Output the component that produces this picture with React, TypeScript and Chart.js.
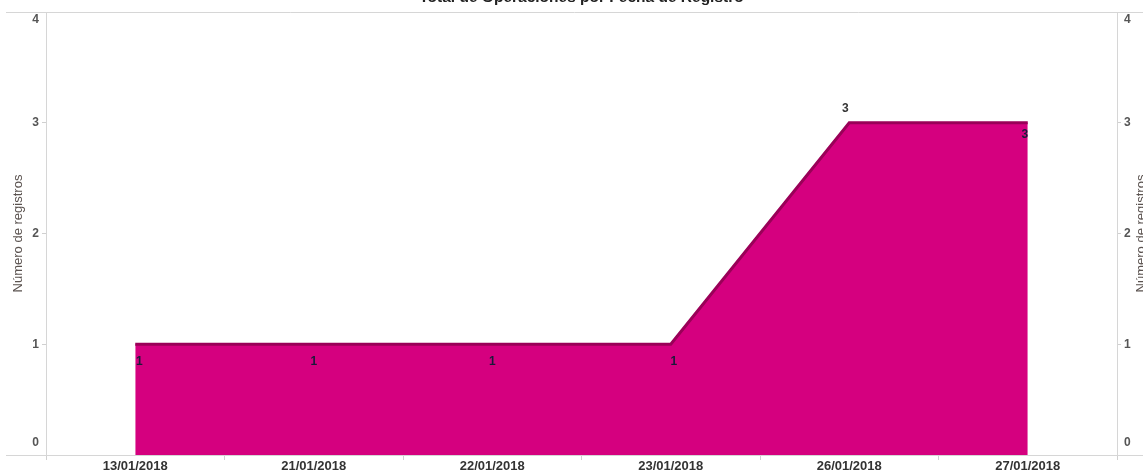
import React, { useEffect, useRef } from "react";
import { Chart, registerables } from "chart.js";

Chart.register(...registerables);

const TITLE = "Total de Operaciones por Fecha de Registro";
const Y_TITLE = "Número de registros";
const categories = ["13/01/2018", "21/01/2018", "22/01/2018", "23/01/2018", "26/01/2018", "27/01/2018"];
const registros = [1, 1, 1, 1, 3, 3];
const yTicks = [0, 1, 2, 3, 4];

const FONT = "'Liberation Sans', Arial, sans-serif";

const decorPlugin = {
  id: "decor",
  afterDraw(chart: any, _args: any, opts: any) {
    const ctx = chart.ctx;
    const area = chart.chartArea;
    const ys = chart.scales.y;
    ctx.save();
    // frame lines across the full width
    ctx.strokeStyle = "#d6d6d6";
    ctx.lineWidth = 1;
    ctx.beginPath();
    ctx.moveTo(6, Math.round(area.top) + 0.5);
    ctx.lineTo(chart.width, Math.round(area.top) + 0.5);
    ctx.moveTo(6, Math.round(area.bottom) + 0.5);
    ctx.lineTo(chart.width, Math.round(area.bottom) + 0.5);
    ctx.stroke();

    // y tick labels, both sides
    ctx.font = "bold 12px " + FONT;
    ctx.fillStyle = "#555";
    ctx.textBaseline = "middle";
    yTicks.forEach((v) => {
      let y = ys.getPixelForValue(v);
      if (v === yTicks[0]) y -= 12;
      if (v === yTicks[yTicks.length - 1]) y += 8;
      ctx.textAlign = "right";
      ctx.fillText(String(v), area.left - 7, y);
      ctx.textAlign = "left";
      ctx.fillText(String(v), area.right + 7, y);
    });

    // axis titles
    ctx.font = "13px " + FONT;
    ctx.fillStyle = "#5b5350";
    ctx.textAlign = "center";
    const midY = (ys.getPixelForValue(yTicks[0]) + ys.getPixelForValue(yTicks[yTicks.length - 1])) / 2;
    [18, 1141].forEach((x) => {
      ctx.save();
      ctx.translate(x, midY);
      ctx.rotate(-Math.PI / 2);
      ctx.fillText(Y_TITLE, 0, 0);
      ctx.restore();
    });

    // chart title (clipped at the top)
    ctx.font = "bold 15.5px " + FONT;
    ctx.fillStyle = "#222";
    ctx.textBaseline = "alphabetic";
    ctx.fillText(TITLE, (area.left + area.right) / 2, 2);

    // data labels
    const meta = chart.getDatasetMeta(0);
    const offs = opts.offsets;
    ctx.font = "bold 12px " + FONT;
    ctx.textBaseline = "middle";
    ctx.textAlign = "center";
    meta.data.forEach((pt: any, i: number) => {
      const [dx, dy, color] = offs[i];
      ctx.fillStyle = color;
      ctx.fillText(String(registros[i]), pt.x + dx, pt.y + dy);
    });
    ctx.restore();
  },
};

export default function App() {
  const ref = useRef<HTMLCanvasElement>(null);
  useEffect(() => {
    if (!ref.current) return;
    const chart = new Chart(ref.current, {
      type: "line",
      data: {
        labels: categories,
        datasets: [
          {
            label: "Registros",
            data: registros,
            fill: "origin",
            backgroundColor: "#d5007f",
            borderColor: "#9a0058",
            borderWidth: 3,
            pointRadius: 0,
            tension: 0,
            yAxisID: "y",
          },
        ],
      },
      options: {
        responsive: false,
        animation: false,
        layout: { padding: { top: 12, left: 0, right: 0, bottom: 0 } },
        plugins: {
          legend: { display: false },
          tooltip: { enabled: false },
          title: { display: false },
          decor: {
            offsets: [
              [4, 17, "#1a1a3a"],
              [0, 17, "#1a1a3a"],
              [0, 17, "#1a1a3a"],
              [3, 17, "#1a1a3a"],
              [-4, -14, "#333"],
              [-3, 12, "#1a1a3a"],
            ],
          },
        } as any,
        scales: {
          x: {
            type: "category",
            offset: true,
            grid: { offset: true, drawOnChartArea: false, drawTicks: true, tickLength: 5, color: "#d0d0d0" },
            border: { display: true, color: "#d6d6d6" },
            ticks: { font: { family: FONT, size: 13, weight: "bold" }, color: "#333", padding: -1, maxRotation: 0, autoSkip: false },
            afterFit: (s: any) => { s.height = 15; },
          },
          y: {
            position: "left",
            min: 0,
            max: 4,
            ticks: { display: false, stepSize: 1 },
            grid: { drawOnChartArea: false, drawTicks: true, tickLength: 4, color: "#d0d0d0" },
            border: { display: true, color: "#d6d6d6" },
            afterFit: (s: any) => { s.width = 46; },
          },
          y2: {
            position: "right",
            min: 0,
            max: 4,
            ticks: { display: false, stepSize: 1 },
            grid: { drawOnChartArea: false, drawTicks: true, tickLength: 4, color: "#d0d0d0" },
            border: { display: true, color: "#d6d6d6" },
            afterFit: (s: any) => { s.width = 26; },
          },
        },
      } as any,
      plugins: [decorPlugin],
    });
    return () => chart.destroy();
  }, []);
  return (
    <div style={{ position: "fixed", left: 0, top: 0, width: 1143, height: 470, background: "#fff" }}>
      <canvas ref={ref} width={1143} height={470} style={{ display: "block" }} />
    </div>
  );
}
